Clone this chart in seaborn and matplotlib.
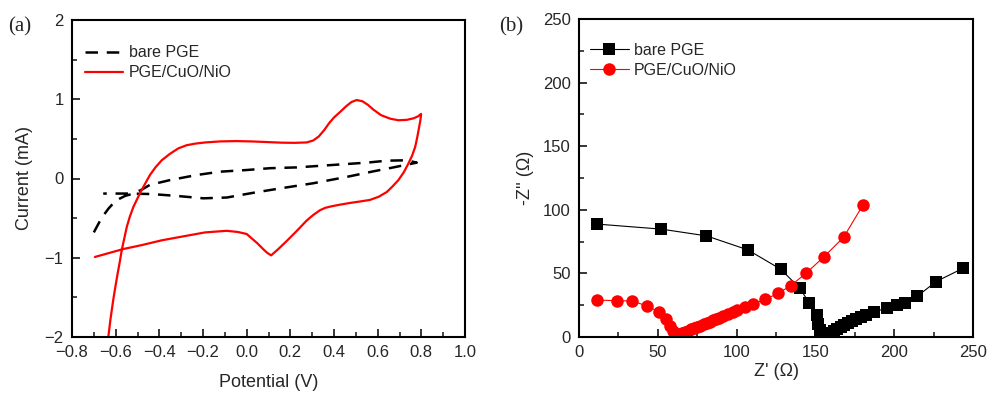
import numpy as np
import pandas as pd
import matplotlib
matplotlib.use("Agg")
import matplotlib.pyplot as plt
from matplotlib.ticker import MultipleLocator
import seaborn as sns

# ---------------- data ----------------
# (a) cyclic voltammograms
cv_bare_v = [-0.70, -0.665, -0.633, -0.60, -0.557, -0.519, -0.48, -0.443, -0.351, -0.229,
             -0.122, 0.0, 0.107, 0.229, 0.336, 0.443, 0.55, 0.642, 0.733, 0.779,
             0.672, 0.58, 0.458, 0.305, 0.153, 0.031, -0.091, -0.198, -0.32, -0.435,
             -0.55, -0.657]
cv_bare_i = [-0.68, -0.50, -0.38, -0.28, -0.22, -0.19, -0.14, -0.08, -0.02, 0.044,
             0.086, 0.107, 0.13, 0.14, 0.16, 0.18, 0.20, 0.225, 0.23, 0.20,
             0.14, 0.09, 0.02, -0.06, -0.125, -0.18, -0.24, -0.25, -0.22, -0.196,
             -0.19, -0.19]

cv_mod_v = [-0.638, -0.624, -0.611, -0.601, -0.591, -0.581, -0.572, -0.56, -0.549, -0.535,
            -0.519, -0.50, -0.481, -0.462, -0.443, -0.418, -0.389, -0.352, -0.313, -0.275,
            -0.236, -0.19, -0.12, -0.05, 0.02, 0.092, 0.16, 0.22, 0.275, 0.305,
            0.33, 0.355, 0.378, 0.40, 0.428, 0.455, 0.48, 0.504, 0.53, 0.555,
            0.58, 0.615, 0.657, 0.695, 0.733, 0.765, 0.785, 0.799,
            0.796, 0.79, 0.782, 0.772, 0.758, 0.741, 0.72, 0.695, 0.668, 0.642,
            0.605, 0.565, 0.519, 0.47, 0.428, 0.39, 0.36, 0.336, 0.305, 0.275,
            0.23, 0.183, 0.145, 0.112, 0.095, 0.075, 0.05, 0.025, 0.0, -0.04,
            -0.091, -0.19, -0.29, -0.389, -0.48, -0.565, -0.63, -0.695]
cv_mod_i = [-2.10, -1.78, -1.53, -1.36, -1.20, -1.05, -0.90, -0.75, -0.61, -0.48,
            -0.36, -0.25, -0.145, -0.05, 0.044, 0.14, 0.23, 0.31, 0.38, 0.42,
            0.44, 0.455, 0.468, 0.472, 0.468, 0.46, 0.452, 0.45, 0.455, 0.48,
            0.53, 0.61, 0.70, 0.77, 0.84, 0.91, 0.965, 0.99, 0.975, 0.93,
            0.87, 0.80, 0.755, 0.735, 0.74, 0.76, 0.785, 0.815,
            0.74, 0.65, 0.53, 0.40, 0.29, 0.19, 0.08, -0.02, -0.10, -0.17,
            -0.23, -0.27, -0.29, -0.31, -0.33, -0.35, -0.37, -0.40, -0.46, -0.53,
            -0.66, -0.79, -0.89, -0.97, -0.94, -0.89, -0.82, -0.76, -0.70, -0.675,
            -0.66, -0.68, -0.73, -0.78, -0.84, -0.89, -0.94, -0.99]

# (b) Nyquist plots
eis_bare_re = [11.2, 52.3, 80.9, 107.1, 128.0, 140.1, 146.2, 150.8, 151.8, 153.0,
               154.5, 156.0, 158.0, 160.0, 162.0, 164.0, 166.0, 168.0, 170.5, 173.0,
               176.0, 179.0, 182.0, 187.0, 195.2, 201.6, 206.8, 214.6, 226.6, 243.8]
eis_bare_im = [88.8, 84.8, 79.5, 68.5, 53.3, 38.3, 26.6, 17.0, 10.5, 5.5,
               2.5, 1.0, 2.0, 3.5, 5.0, 6.5, 8.0, 9.5, 11.0, 12.8,
               14.5, 16.0, 17.5, 19.8, 22.6, 25.4, 26.8, 32.0, 43.6, 54.1]

eis_mod_re = [11.2, 23.9, 33.4, 43.3, 50.6, 55.3, 57.8, 59.5, 61.0, 62.5,
              64.0, 65.5, 67.0, 69.0, 71.0, 73.0, 75.0, 77.0, 79.0, 81.0,
              83.0, 85.0, 87.0, 89.0, 91.5, 94.5, 97.5, 100.5, 105.3, 110.5,
              118.3, 126.4, 134.3, 144.1, 155.4, 168.0, 180.0]
eis_mod_im = [29.1, 28.5, 28.4, 24.4, 19.6, 14.0, 9.0, 5.0, 2.5, 1.2,
              2.0, 3.0, 4.0, 5.0, 6.0, 7.0, 8.0, 9.0, 10.0, 11.0,
              12.0, 13.0, 14.0, 15.0, 16.5, 18.0, 19.6, 21.2, 23.8, 26.0,
              29.6, 34.4, 40.3, 50.2, 63.0, 78.6, 103.4]

label_bare = "bare PGE"
label_mod = "PGE/CuO/NiO"

# ---------------- style ----------------
sns.set_style("ticks")
plt.rcParams["font.family"] = ["Liberation Sans", "DejaVu Sans"]
plt.rcParams["axes.linewidth"] = 1.5
plt.rcParams["xtick.direction"] = "in"
plt.rcParams["ytick.direction"] = "in"

fig = plt.figure(figsize=(9.89, 4.01), dpi=100)
W, H = 989, 401
axA = fig.add_axes([72 / W, 1 - 337 / H, (465 - 72) / W, (337 - 20) / H])
axB = fig.add_axes([579 / W, 1 - 337 / H, (973 - 579) / W, (337 - 19) / H])

# ---- panel (a)
df_bare = pd.DataFrame({"V": cv_bare_v, "I": cv_bare_i})
df_mod = pd.DataFrame({"V": cv_mod_v, "I": cv_mod_i})
sns.lineplot(data=df_bare, x="V", y="I", sort=False, estimator=None, ax=axA,
             color="black", lw=1.8, label=label_bare)
axA.lines[-1].set_dashes([5, 3.5])
sns.lineplot(data=df_mod, x="V", y="I", sort=False, estimator=None, ax=axA,
             color="#ff0000", lw=1.6, label=label_mod)
axA.set_xlim(-0.8, 1.0)
axA.set_ylim(-2, 2)
axA.xaxis.set_major_locator(MultipleLocator(0.2))
axA.xaxis.set_minor_locator(MultipleLocator(0.1))
axA.yaxis.set_major_locator(MultipleLocator(1))
axA.yaxis.set_minor_locator(MultipleLocator(0.5))
axA.set_xticklabels([f"{v:.1f}".replace("-", "\u2212") for v in axA.get_xticks()])
axA.set_xlabel("Potential (V)", fontsize=13, labelpad=10)
axA.set_ylabel("Current (mA)", fontsize=13, labelpad=8)
axA.legend(loc="upper left", bbox_to_anchor=(0.005, 0.955), frameon=False, fontsize=11.5,
           handlelength=2.4, handletextpad=0.35, labelspacing=0.3, borderaxespad=0.3)

# ---- panel (b)
df_eb = pd.DataFrame({"re": eis_bare_re, "im": eis_bare_im})
df_em = pd.DataFrame({"re": eis_mod_re, "im": eis_mod_im})
sns.lineplot(data=df_eb, x="re", y="im", sort=False, estimator=None, ax=axB,
             color="black", lw=0.8, marker="s", markersize=8, markeredgewidth=0,
             label=label_bare)
sns.lineplot(data=df_em, x="re", y="im", sort=False, estimator=None, ax=axB,
             color="#ff0000", lw=0.8, marker="o", markersize=9, markeredgewidth=0,
             label=label_mod)
axB.set_xlim(0, 250)
axB.set_ylim(0, 250)
axB.xaxis.set_major_locator(MultipleLocator(50))
axB.xaxis.set_minor_locator(MultipleLocator(25))
axB.yaxis.set_major_locator(MultipleLocator(50))
axB.yaxis.set_minor_locator(MultipleLocator(25))
axB.set_xlabel("Z' (\u03a9)", fontsize=13, labelpad=2)
axB.set_ylabel("-Z'' (\u03a9)", fontsize=13, labelpad=6)
axB.legend(loc="upper left", bbox_to_anchor=(0.0, 0.96), frameon=False, fontsize=11.5,
           handlelength=2.4, handletextpad=0.35, labelspacing=0.3, borderaxespad=0.3)

for ax in (axA, axB):
    for s in ax.spines.values():
        s.set_visible(True)
        s.set_color("black")
    ax.tick_params(which="major", length=6, width=1.3, labelsize=12, top=False, right=False, pad=6)
    ax.tick_params(which="minor", length=3.5, width=1.2, top=False, right=False)

fig.text(8 / W, 1 - 27 / H, "(a)", fontsize=15, family=["Liberation Serif"], va="center")
fig.text(499 / W, 1 - 27 / H, "(b)", fontsize=15, family=["Liberation Serif"], va="center")

fig.savefig("out.png", dpi=100)
